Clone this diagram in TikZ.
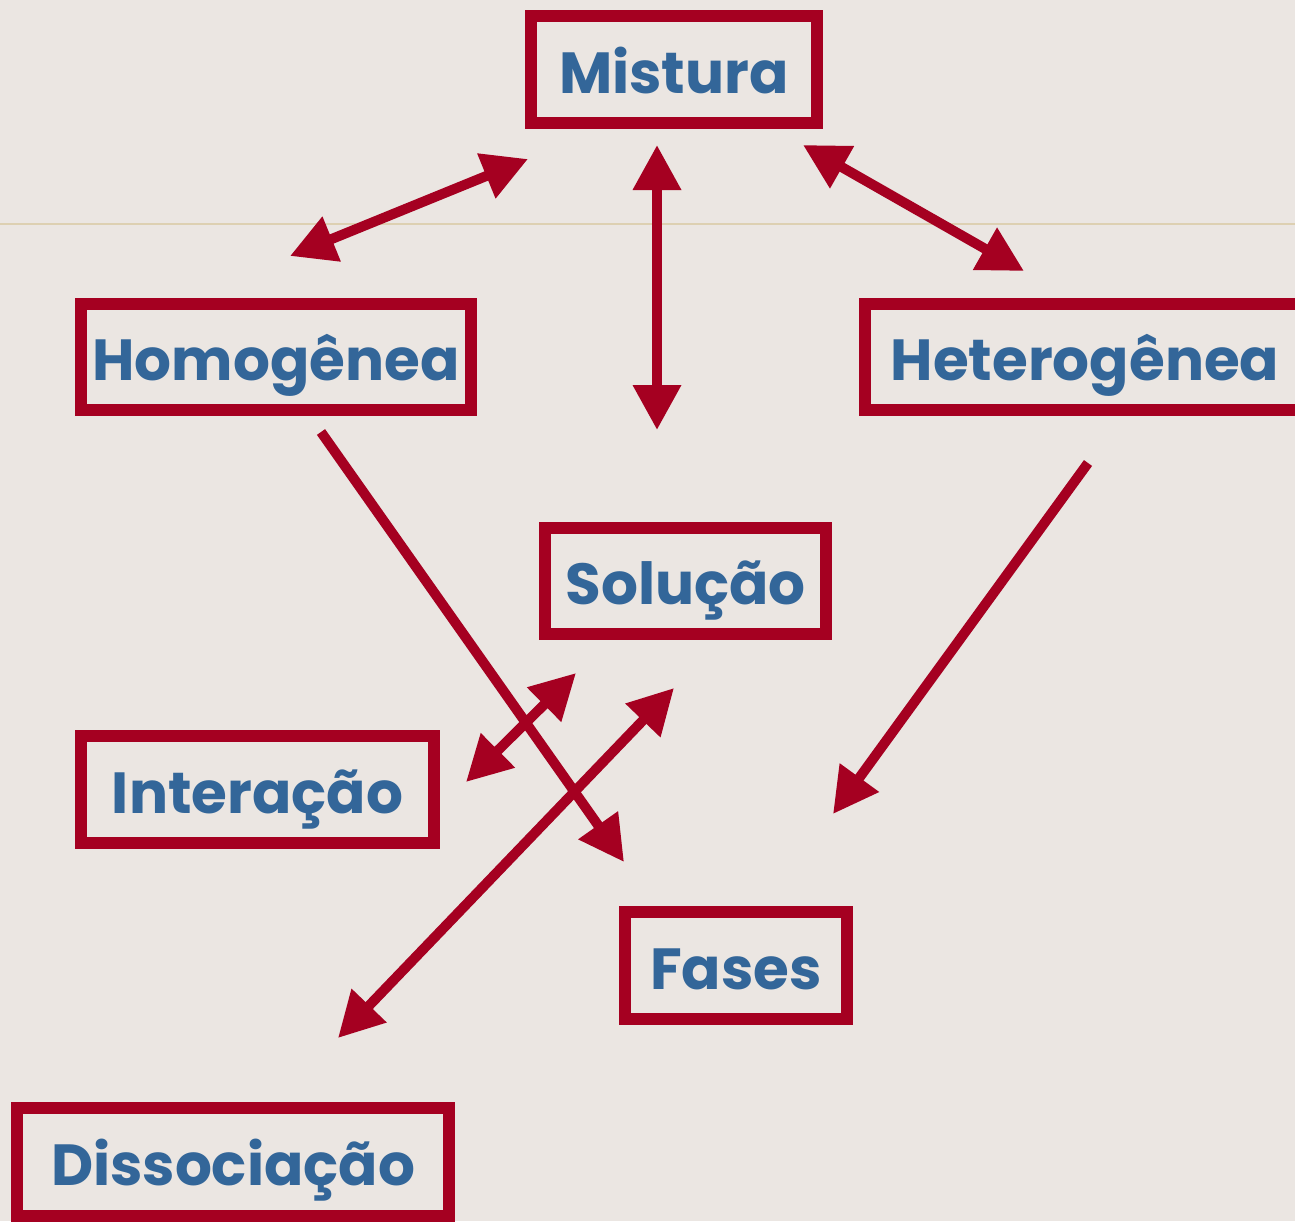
\documentclass[tikz,border=0pt]{standalone}
\usepackage{fontspec}
\setmainfont{Poppins}
\usepackage{tikz}
\usetikzlibrary{arrows.meta}
\definecolor{bordo}{HTML}{A50021}
\definecolor{azul}{HTML}{336699}
\definecolor{fundo}{HTML}{EBE6E2}
\definecolor{linha}{HTML}{DDD0B2}
\tikzset{>={Triangle[length = 45pt, width = 46pt]}}
\tikzstyle{caixa} = [rectangle, draw = bordo, line width = 12, text = azul, inner sep = 0, text height = 55, text depth = 8, font = \fontsize{58}{70}\selectfont\bfseries]
\tikzstyle{seta} = [draw = bordo, fill = bordo, line width = 10]

\begin{document}
\begin{tikzpicture}[x = 1pt, y = -1pt]
\fill [fundo] (0, 0) rectangle (1295, 1221);
\useasboundingbox (0, 0) rectangle (1295, 1221);
\draw [linha, line width = 2] (0, 224) -- (1295, 224);
% caixas
\node [caixa, minimum width = 286, minimum height = 107] (M) at (674, 69.5) {Mistura};
\node [caixa, minimum width = 390, minimum height = 106] (Ho) at (276, 357) {Homogênea};
\node [caixa, minimum width = 440, minimum height = 106] (He) at (1085, 357) {Heterogênea};
\node [caixa, minimum width = 281, minimum height = 106] (S) at (685.5, 581) {Solução};
\node [caixa, minimum width = 353, minimum height = 107] (I) at (257.5, 789.5) {Interação};
\node [caixa, minimum width = 222, minimum height = 107] (F) at (736, 965.5) {Fases};
\node [caixa, minimum width = 432, minimum height = 108] (D) at (233, 1162) {Dissociação};
% pontas das setas
\coordinate (a1) at (290, 256); \coordinate (b1) at (528, 159);
\coordinate (a2) at (657, 145); \coordinate (b2) at (657, 430);
\coordinate (a3) at (803, 145); \coordinate (b3) at (1024, 271);
\coordinate (a4) at (321, 432); \coordinate (b4) at (624, 862);
\coordinate (a5) at (1088, 463); \coordinate (b5) at (833, 814);
\coordinate (a6) at (576, 673); \coordinate (b6) at (466, 782);
\coordinate (a7) at (674, 688); \coordinate (b7) at (338, 1038);
\draw [seta, <->] (a1) -- (b1);
\draw [seta, <->] (a2) -- (b2);
\draw [seta, <->] (a3) -- (b3);
\draw [seta, ->] (a4) -- (b4);
\draw [seta, ->] (a5) -- (b5);
\draw [seta, <->] (a6) -- (b6);
\draw [seta, <->] (a7) -- (b7);
\end{tikzpicture}
\end{document}
